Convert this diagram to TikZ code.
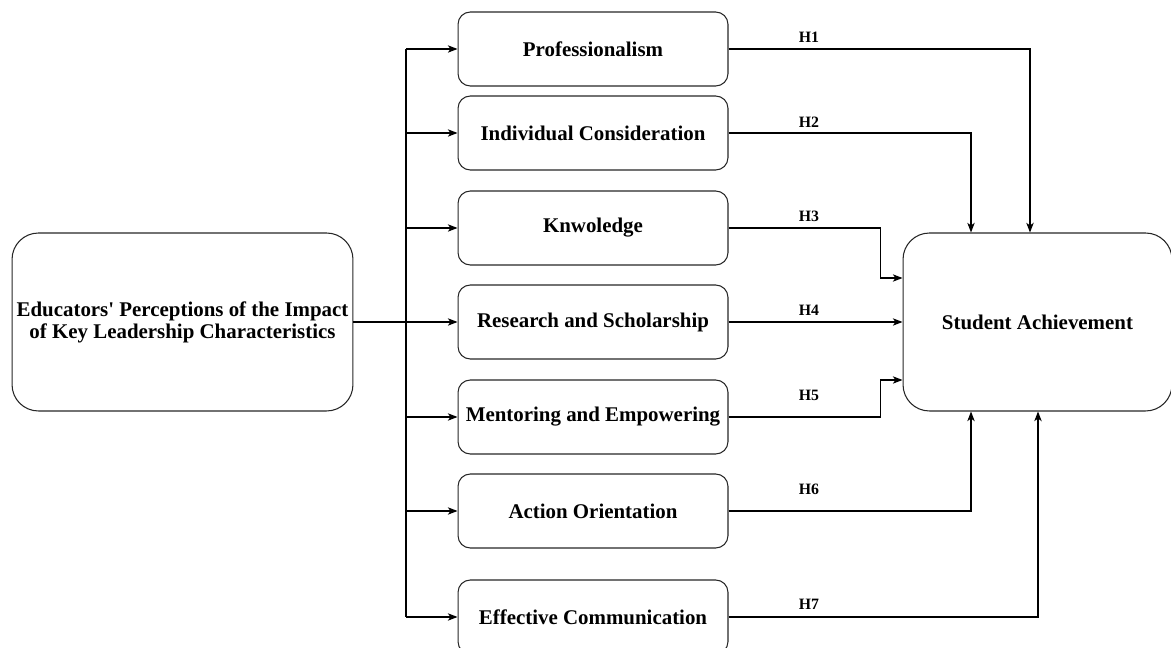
\documentclass[tikz,border=0pt]{standalone}
\usepackage{fontspec}
\setmainfont{Liberation Serif}
\usetikzlibrary{arrows.meta,positioning}

\begin{document}
\begin{tikzpicture}[x=0.02cm,y=-0.02cm,>={Stealth[length=5.5pt,width=4.2pt,inset=1.5pt]},line width=0.6pt,
  font=\fontsize{11.9}{12.5}\selectfont\bfseries,
  charbox/.style={draw=black!85,rounded corners=7pt,minimum width=5.4cm,minimum height=1.48cm,inner sep=1pt},
  mainbox/.style={draw=black!85,rounded corners=15pt,minimum width=6.82cm,minimum height=3.56cm,inner sep=1pt,align=center},
  hyp/.style={font=\fontsize{9}{10}\selectfont\bfseries,inner sep=0pt}]
\useasboundingbox (0,0) rectangle (1171,648);
% predictor and outcome
\node[mainbox] (src) at (182.5,322) {Educators\textquotesingle{} Perceptions of the Impact\\of Key Leadership Characteristics};
\node[mainbox,minimum width=5.38cm] (ach) at (1037.5,322) {Student Achievement};
% leadership characteristics
\node[charbox] (c1) at (593,49) {Professionalism};
\node[charbox] (c2) at (593,133) {Individual Consideration};
\node[charbox] (c3) at (593,228) {Knwoledge};
\node[charbox] (c4) at (593,322) {Research and Scholarship};
\node[charbox] (c5) at (593,417) {Mentoring and Empowering};
\node[charbox] (c6) at (593,511) {Action Orientation};
\node[charbox] (c7) at (593,617) {Effective Communication};
% distribution bus
\coordinate (bus) at (406,322);
\draw (bus |- c1) -- (bus |- c7);
\foreach \i in {1,2,3,5,6,7} \draw[->] (bus |- c\i) -- (c\i.west);
\draw[->] (src) -- (c4);
% hypotheses H1..H7
\draw[->] (c1) -| ([xshift=-0.15cm]ach.north);
\draw[->] (c2) -| ([xshift=-1.33cm]ach.north);
\draw[->] (c3.east) -- ++(3.04cm,0) |- ([yshift=0.88cm]ach.west);
\draw[->] (c4) -- (ach);
\draw[->] (c5.east) -- ++(3.04cm,0) |- ([yshift=-1.16cm]ach.west);
\draw[->] (c6) -| ([xshift=-1.33cm]ach.south);
\draw[->] (c7) -| ([xshift=0.01cm]ach.south);
\foreach \i/\y in {1/37,2/122,3/216,4/310,5/395,6/489,7/604}
  \node[hyp] (h\i) at (809,\y) {H\i};
\end{tikzpicture}
\end{document}
